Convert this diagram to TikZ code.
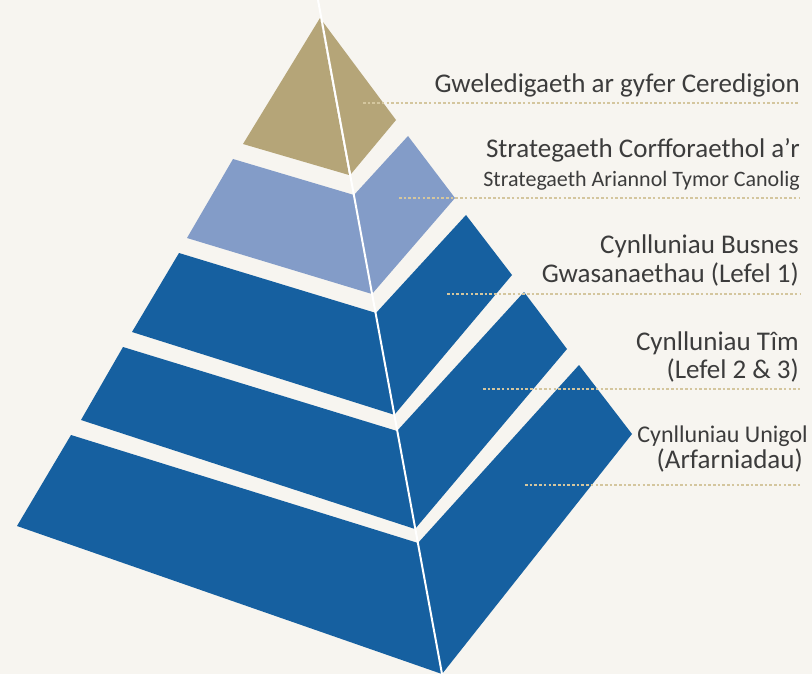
\documentclass[tikz,border=0pt]{standalone}
\usepackage{fontspec}
\setmainfont{Carlito}
\usepackage{tikz}
\definecolor{bgcol}{RGB}{247,245,240}
\definecolor{tancol}{RGB}{181,165,120}
\definecolor{pale}{RGB}{131,156,200}
\definecolor{deep}{RGB}{22,96,160}
\definecolor{dotcol}{RGB}{212,198,158}
\definecolor{txt}{RGB}{60,60,60}

\begin{document}
\begin{tikzpicture}[x=1pt,y=-1pt,
	lbl/.style={anchor=base east,text=txt,inner sep=0pt,font=\fontsize{27}{32}\selectfont},
	sublbl/.style={lbl,font=\fontsize{22}{26}\selectfont},
	guide/.style={dotcol,line width=2.8pt,dash pattern=on 2.6pt off 2.1pt}]
	\fill[bgcol] (0,0) rectangle (812,674);
	\useasboundingbox (0,0) rectangle (812,674);

	\fill[tancol] (320,18) -- (243,144) -- (349,175) -- cycle;
	\fill[tancol] (320,18) -- (351,174) -- (396,120) -- cycle;

	\fill[pale] (233,159) -- (354,195) -- (372,294) -- (187,238) -- cycle;
	\fill[pale] (354,195) -- (408,136) -- (455,198) -- (372,294) -- cycle;

	\fill[deep] (179,253) -- (376,313) -- (395,415) -- (132,332) -- cycle;
	\fill[deep] (376,313) -- (466,215) -- (512,275) -- (395,414) -- cycle;

	\fill[deep] (123,347) -- (397,431) -- (415,529) -- (81,420) -- cycle;
	\fill[deep] (397,431) -- (524,292) -- (567,349) -- (415,529) -- cycle;

	\fill[deep] (71,435) -- (418,543) -- (442,674) -- (17,526) -- cycle;
	\fill[deep] (418,543) -- (579,365) -- (632,434) -- (442,674) -- cycle;

	\draw[white,line width=2pt] (318,0) -- (442,674);

	\coordinate (d1) at (363,103); \coordinate (e1) at (800,103);
	\coordinate (d2) at (399,198); \coordinate (e2) at (800,198);
	\coordinate (d3) at (447,294); \coordinate (e3) at (800,294);
	\coordinate (d4) at (483,389); \coordinate (e4) at (800,389);
	\coordinate (d5) at (525,485); \coordinate (e5) at (800,485);
	\draw[guide] (d1) -- (e1);
	\draw[guide] (d2) -- (e2);
	\draw[guide] (d3) -- (e3);
	\draw[guide] (d4) -- (e4);
	\draw[guide] (d5) -- (e5);

	\node[lbl] (t1) at (800,93) {Gweledigaeth ar gyfer Ceredigion};
	\node[lbl] (t2) at (800,158) {Strategaeth Corfforaethol a’r};
	\node[sublbl] (t2b) at (800,186) {Strategaeth Ariannol Tymor Canolig};
	\node[lbl] (t3) at (799,253) {Cynlluniau Busnes};
	\node[lbl] (t3b) at (799,282) {Gwasanaethau (Lefel 1)};
	\node[lbl] (t4) at (799,350) {Cynlluniau Tîm};
	\node[lbl] (t4b) at (799,378) {(Lefel 2 \& 3)};
	\node[lbl,font=\fontsize{24}{29}\selectfont] (t5) at (808,442) {Cynlluniau Unigol};
	\node[lbl] (t5b) at (803,468) {(Arfarniadau)};
\end{tikzpicture}
\end{document}
